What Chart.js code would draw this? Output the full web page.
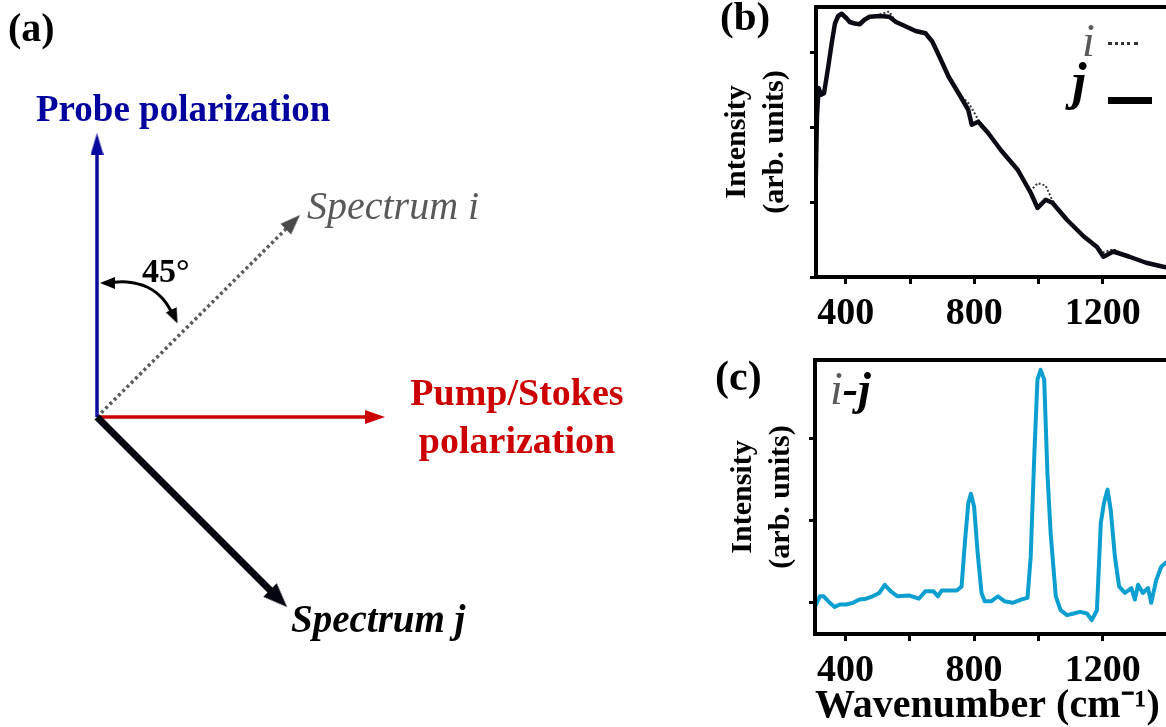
<!DOCTYPE html>
<html>
<head>
<meta charset="utf-8">
<script src="https://cdn.jsdelivr.net/npm/chart.js@4.4.1/dist/chart.umd.min.js"></script>
<style>
html, body { margin:0; padding:0; background:#fff; overflow:hidden; }
#page { position:relative; width:1166px; height:727px; overflow:hidden; background:#fff; }
canvas { position:absolute; }
.lbl { position:absolute; font-family:'Liberation Serif','Times New Roman',serif; line-height:1; white-space:nowrap; font-weight:bold; color:#000; }
</style>
</head>
<body>
<div id="page">
  <canvas id="diagram" width="700" height="727" style="left:0;top:0"></canvas>
  <canvas id="specChart" width="474" height="340" style="left:700px;top:0"></canvas>
  <canvas id="diffChart" width="474" height="387" style="left:700px;top:340px"></canvas>

  <div class="lbl" style="left:8px;top:8px;font-size:40px">(a)</div>
  <div class="lbl" style="left:720px;top:-4px;font-size:41px">(b)</div>
  <div class="lbl" style="left:715px;top:355px;font-size:42px">(c)</div>

  <div class="lbl" style="left:36px;top:90px;font-size:37px;color:#00009e">Probe polarization</div>
  <div class="lbl" style="left:307px;top:186px;font-size:40px;font-weight:normal;font-style:italic;color:#595959">Spectrum i</div>
  <div class="lbl" style="left:142px;top:254px;font-size:34px">45°</div>
  <div class="lbl" style="left:400px;top:368px;width:234px;font-size:38px;line-height:48px;text-align:center;color:#cc0000">Pump/Stokes<br>polarization</div>
  <div class="lbl" style="left:291px;top:599px;font-size:39px;font-style:italic">Spectrum j</div>

  <div class="lbl" style="left:1082px;top:18px;font-size:46px;font-weight:normal;font-style:italic;color:#595959">i</div>
  <div style="position:absolute;left:1108px;top:42px;width:30px;border-top:3px dotted #333"></div>
  <div class="lbl" style="left:1072px;top:56px;font-size:52px;font-style:italic">j</div>
  <div style="position:absolute;left:1108px;top:97px;width:44px;height:7px;background:#000"></div>

  <div class="lbl" style="left:830px;top:366px;font-size:46px;font-style:italic"><span style="font-weight:normal;color:#595959">i</span>-j</div>
</div>
<script>
// ---- panel (a): polarization vectors, in pixels from the common origin (y up)
const probeTip = [0, 284];
const pumpTip = [288, 0];
const spectrumITip = [203, 202];
const spectrumJTip = [190, -190];
const angleArc = [[9, 134], [30, 135], [50, 130], [66, 118], [78, 99]];

// ---- panel (b): spectra i and j
const bWavenumber = [305,310,315,323,332,345,356,366,376,387,402,412,428,443,458,474,505,535,556,587,617,648,669,689,720,751,781,792,812,843,883,935,976,997,1022,1043,1089,1141,1182,1202,1233,1283,1335,1385,1410];
const bSpectrumJ = [1.0,2.14,2.52,2.43,2.45,2.80,3.12,3.38,3.48,3.51,3.45,3.40,3.38,3.37,3.43,3.47,3.48,3.47,3.40,3.34,3.28,3.25,3.14,2.96,2.67,2.45,2.23,2.03,2.07,1.92,1.69,1.43,1.12,0.92,1.03,0.99,0.76,0.54,0.40,0.27,0.34,0.27,0.19,0.14,0.12];
const bSpectrumI = [1.0,2.14,2.52,2.43,2.45,2.80,3.12,3.38,3.48,3.51,3.45,3.40,3.38,3.37,3.43,3.47,3.50,3.54,3.40,3.34,3.28,3.25,3.14,2.96,2.67,2.45,2.32,2.25,2.10,1.92,1.69,1.43,1.15,1.25,1.22,1.02,0.76,0.54,0.40,0.33,0.37,0.27,0.19,0.14,0.12];

// ---- panel (c): difference i-j
const cWavenumber = [305,320,332,351,366,382,402,423,443,464,484,505,522,541,561,597,628,648,674,687,699,746,761,772,782,790,800,811,823,833,854,874,894,920,946,966,976,987,997,1007,1018,1028,1038,1054,1069,1089,1110,1130,1151,1166,1182,1194,1204,1215,1225,1238,1251,1269,1289,1300,1310,1325,1341,1351,1366,1382,1400,1415];
const cDiff = [-0.05,0.08,0.08,0.0,-0.05,-0.02,-0.02,0.0,0.04,0.05,0.08,0.12,0.22,0.14,0.08,0.09,0.05,0.14,0.14,0.08,0.15,0.15,0.2,0.77,1.22,1.33,1.17,0.61,0.12,0.02,0.02,0.08,0.02,0.0,0.04,0.06,0.56,1.78,2.72,2.84,2.72,1.58,0.85,0.08,-0.09,-0.15,-0.13,-0.11,-0.13,-0.21,-0.09,0.97,1.22,1.38,1.13,0.56,0.2,0.12,0.18,0.04,0.22,0.12,0.18,0.0,0.27,0.44,0.5,0.55];

// ticks
const xTickValues = [400, 600, 800, 1000, 1200, 1400];
const xLabelValues = [400, 800, 1200];
const bYTicks = [0, 1, 2, 3];
const cYTicks = [0, 1, 2];

const serif = "'Liberation Serif', 'Times New Roman', serif";

// arrowhead image pointing up; its centre sits `back` px behind the tip
function makeHead(color, w, len, back) {
  var H = 2 * Math.max(len - back, back);
  var cv = document.createElement('canvas');
  cv.width = w; cv.height = H;
  var g = cv.getContext('2d');
  var tipY = H / 2 - back;
  g.fillStyle = color;
  g.beginPath();
  g.moveTo(w / 2, tipY);
  g.lineTo(w, tipY + len);
  g.lineTo(0, tipY + len);
  g.closePath();
  g.fill();
  return cv;
}

function arrowData(tip, back) {
  var L = Math.hypot(tip[0], tip[1]);
  return [{x: 0, y: 0}, {x: tip[0] - back * tip[0] / L, y: tip[1] - back * tip[1] / L}];
}

function arrowSet(tip, color, width, head, back, dash) {
  return {
    data: arrowData(tip, back),
    showLine: true,
    borderColor: color,
    borderWidth: width,
    borderDash: dash || [],
    pointRadius: [0, 6],
    pointStyle: head,
    pointRotation: Math.atan2(tip[0], tip[1]) * 180 / Math.PI,
    clip: false
  };
}

new Chart(document.getElementById('diagram'), {
  type: 'scatter',
  data: {
    datasets: [
      arrowSet(spectrumJTip, '#05050f', 7, makeHead('#05050f', 19, 24, 10), 10),
      arrowSet(probeTip, '#0a0a9e', 3.5, makeHead('#0a0a9e', 13, 22, 8), 8),
      arrowSet(pumpTip, '#cc0000', 3.5, makeHead('#cc0000', 14, 20, 8), 8),
      arrowSet(spectrumITip, '#5a5a5a', 3.5, makeHead('#4a4a4a', 15, 20, 8), 8, [3, 3]),
      {
        data: angleArc.map(p => ({x: p[0], y: p[1]})),
        showLine: true,
        borderColor: '#000',
        borderWidth: 3,
        tension: 0.4,
        pointRadius: [6, 0, 0, 0, 6],
        pointStyle: makeHead('#000', 12, 15, 6),
        pointRotation: [270, 0, 0, 0, 155],
        clip: false
      }
    ]
  },
  options: {
    responsive: false,
    animation: false,
    layout: { padding: 0, autoPadding: false },
    plugins: { legend: { display: false }, tooltip: { enabled: false } },
    scales: {
      x: { type: 'linear', min: -97, max: 603, display: false },
      y: { type: 'linear', min: -310, max: 417, display: false }
    }
  }
});

// box round the plot area
const framePlugin = {
  id: 'frame',
  afterDatasetsDraw(chart) {
    const a = chart.chartArea;
    const ctx = chart.ctx;
    ctx.save();
    ctx.lineWidth = 4;
    ctx.strokeStyle = '#000';
    ctx.strokeRect(a.left, a.top, a.right - a.left, a.bottom - a.top);
    ctx.restore();
  }
};

function xScale(min, max, height, title) {
  return {
    type: 'linear', min: min, max: max,
    afterBuildTicks: s => { s.ticks = xTickValues.map(v => ({value: v})); },
    afterFit: s => { s.height = height; },
    ticks: {
      autoSkip: false, maxRotation: 0, padding: 7, color: '#000',
      font: { family: serif, size: 38, weight: 'bold' },
      callback: v => xLabelValues.includes(v) ? String(v) : ''
    },
    grid: { drawOnChartArea: false, tickLength: 7, lineWidth: 3, color: '#000' },
    border: { display: false },
    title: title ? {
      display: true, text: title, align: 'start', color: '#000',
      font: { family: serif, size: 40, weight: 'bold', lineHeight: 1.0 },
      padding: { top: 0, bottom: 0 }
    } : { display: false }
  };
}

function yScale(min, max, tickVals, width, titlePad) {
  return {
    type: 'linear', min: min, max: max,
    afterBuildTicks: s => { s.ticks = tickVals.map(v => ({value: v})); },
    afterFit: s => { s.width = width; },
    ticks: { display: false },
    grid: { drawOnChartArea: false, tickLength: 6, lineWidth: 3, color: '#000' },
    border: { display: false },
    title: {
      display: true, text: ['Intensity', '(arb. units)'], color: '#000',
      font: { family: serif, size: 30, weight: 'bold', lineHeight: 1.27 },
      padding: { top: titlePad, bottom: 0 }
    }
  };
}

new Chart(document.getElementById('specChart'), {
  type: 'scatter',
  data: {
    datasets: [
      {
        label: 'j',
        data: bWavenumber.map((x, i) => ({x: x, y: bSpectrumJ[i]})),
        showLine: true, borderColor: '#0b0b16', borderWidth: 4.5,
        borderJoinStyle: 'round', pointRadius: 0
      },
      {
        label: 'i',
        data: bWavenumber.map((x, i) => ({x: x, y: bSpectrumI[i]})),
        showLine: true, borderColor: '#3a3a3a', borderWidth: 2,
        borderDash: [2, 2], pointRadius: 0
      }
    ]
  },
  options: {
    responsive: false,
    animation: false,
    layout: { padding: { top: 7, left: 0, right: 0, bottom: 0 }, autoPadding: false },
    plugins: { legend: { display: false }, tooltip: { enabled: false } },
    scales: {
      x: xScale(307, 1408, 63, null),
      y: yScale(0, 3.6, bYTicks, 116, 18)
    }
  },
  plugins: [framePlugin]
});

new Chart(document.getElementById('diffChart'), {
  type: 'scatter',
  data: {
    datasets: [{
      label: 'i-j',
      data: cWavenumber.map((x, i) => ({x: x, y: cDiff[i]})),
      showLine: true, borderColor: '#0c9fd0', borderWidth: 4,
      borderJoinStyle: 'round', pointRadius: 0
    }]
  },
  options: {
    responsive: false,
    animation: false,
    layout: { padding: { top: 20, left: 0, right: 0, bottom: 0 }, autoPadding: false },
    plugins: { legend: { display: false }, tooltip: { enabled: false } },
    scales: {
      x: xScale(305, 1410, 93, 'Wavenumber (cm\u207B\u00B9)'),
      y: yScale(-0.38, 2.96, cYTicks, 115, 24)
    }
  },
  plugins: [framePlugin]
});
</script>
</body>
</html>
